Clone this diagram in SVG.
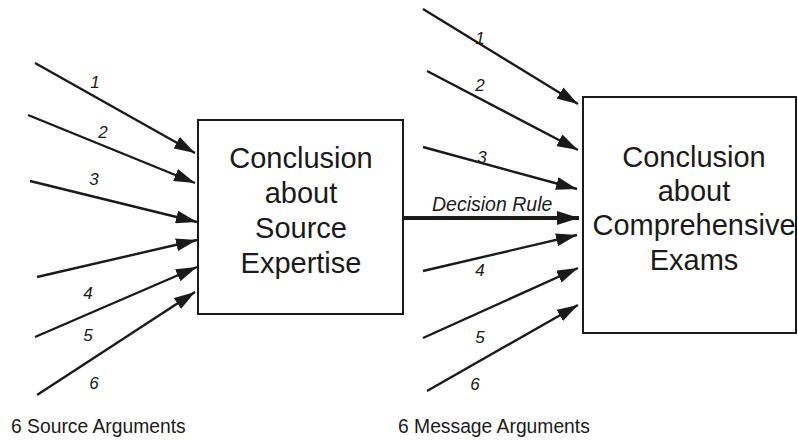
<svg xmlns="http://www.w3.org/2000/svg" width="798" height="440" viewBox="0 0 798 440">
  <style>
    .box { fill: #ffffff; stroke: #1a1a1a; stroke-width: 2; }
    .title { font-family: "Liberation Sans", Arial, sans-serif; font-size: 29px; fill: #1a1a1a; text-anchor: middle; }
    .arg { stroke: #1a1a1a; stroke-width: 2.4; fill: none; marker-end: url(#head); }
    .rule { stroke: #1a1a1a; stroke-width: 4; fill: none; marker-end: url(#bighead); }
    .num { font-family: "Liberation Sans", Arial, sans-serif; font-size: 17px; font-style: italic; fill: #1a1a1a; text-anchor: middle; }
    .cap { font-family: "Liberation Sans", Arial, sans-serif; font-size: 19.3px; fill: #1a1a1a; }
    .rulelabel { font-family: "Liberation Sans", Arial, sans-serif; font-size: 19.5px; font-style: italic; fill: #1a1a1a; }
  </style>
  <defs>
    <marker id="head" markerUnits="userSpaceOnUse" markerWidth="21" markerHeight="13" refX="21" refY="6.5" orient="auto">
      <path d="M0,0 L21,6.5 L0,13 Z" fill="#1a1a1a"/>
    </marker>
    <marker id="bighead" markerUnits="userSpaceOnUse" markerWidth="22" markerHeight="14" refX="22" refY="7" orient="auto">
      <path d="M0,0 L22,7 L0,14 Z" fill="#1a1a1a"/>
    </marker>
  </defs>
  <rect width="798" height="440" fill="#ffffff"/>

  <!-- connectors -->
  <g id="connectors">
    <!-- source arguments into the expertise box -->
    <line class="arg" x1="35" y1="63" x2="195" y2="153"/>
    <line class="arg" x1="28" y1="115" x2="195" y2="183"/>
    <line class="arg" x1="30" y1="181" x2="197" y2="222"/>
    <line class="arg" x1="37" y1="277" x2="197" y2="240"/>
    <line class="arg" x1="35" y1="337" x2="197" y2="267"/>
    <line class="arg" x1="37" y1="395" x2="195" y2="292"/>
    <!-- message arguments into the exams box -->
    <line class="arg" x1="423" y1="9" x2="578" y2="104"/>
    <line class="arg" x1="427" y1="71" x2="578" y2="150"/>
    <line class="arg" x1="423" y1="147" x2="577" y2="189"/>
    <line class="arg" x1="423" y1="271" x2="577" y2="235"/>
    <line class="arg" x1="423" y1="338" x2="578" y2="268"/>
    <line class="arg" x1="427" y1="391" x2="578" y2="305"/>
    <!-- decision rule link -->
    <line class="rule" x1="403" y1="218" x2="579" y2="218"/>
    <text class="rulelabel" x="432" y="211">Decision Rule</text>

    <text class="num" x="95" y="88">1</text>
    <text class="num" x="103" y="138">2</text>
    <text class="num" x="94" y="185">3</text>
    <text class="num" x="88" y="299">4</text>
    <text class="num" x="88" y="341">5</text>
    <text class="num" x="94" y="389">6</text>

    <text class="num" x="480" y="44">1</text>
    <text class="num" x="480" y="91">2</text>
    <text class="num" x="482" y="163">3</text>
    <text class="num" x="480" y="276">4</text>
    <text class="num" x="480" y="343">5</text>
    <text class="num" x="475" y="390">6</text>
  </g>

  <g id="source-expertise">
    <rect class="box" x="198" y="120" width="205" height="194"/>
    <text class="title" x="301" y="168">Conclusion</text>
    <text class="title" x="301" y="203">about</text>
    <text class="title" x="301" y="238">Source</text>
    <text class="title" x="301" y="273">Expertise</text>
  </g>

  <g id="comprehensive-exams">
    <rect class="box" x="583" y="97" width="213" height="236"/>
    <text class="title" x="694" y="167">Conclusion</text>
    <text class="title" x="694" y="201">about</text>
    <text class="title" x="694" y="235">Comprehensive</text>
    <text class="title" x="694" y="270">Exams</text>
  </g>

  <g id="captions">
    <text class="cap" x="11" y="433">6 Source Arguments</text>
    <text class="cap" x="398" y="433">6 Message Arguments</text>
  </g>
</svg>
